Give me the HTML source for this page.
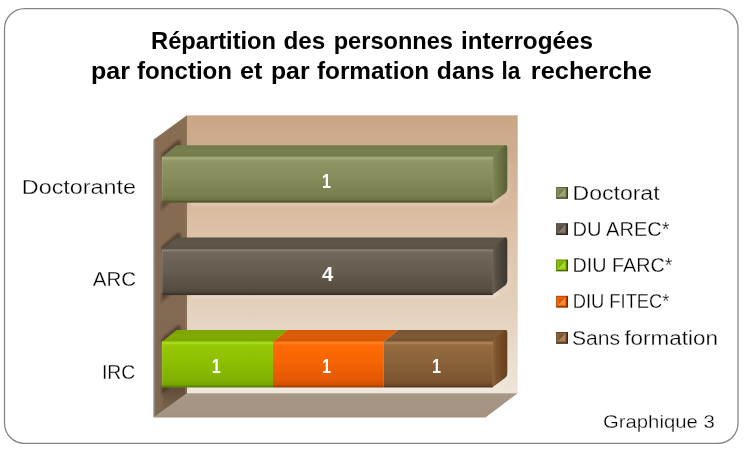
<!DOCTYPE html>
<html lang="fr"><head><meta charset="utf-8"><title>Graphique 3</title>
<style>
html,body{margin:0;padding:0;background:#fff;}
body{width:744px;height:449px;overflow:hidden;font-family:"Liberation Sans",sans-serif;}
svg{display:block}
text{font-family:"Liberation Sans",sans-serif;}
</style></head><body>
<svg width="744" height="449" viewBox="0 0 744 449">
<defs>
<linearGradient id="gback" x1="0" y1="0" x2="0" y2="1"><stop offset="0" stop-color="#c9a686"/><stop offset="0.15" stop-color="#cfae90"/><stop offset="0.4" stop-color="#dcc0a5"/><stop offset="0.73" stop-color="#e4d3bf"/><stop offset="1" stop-color="#eee6da"/></linearGradient>
<linearGradient id="gwall" x1="0" y1="0" x2="0" y2="1"><stop offset="0" stop-color="#896d53"/><stop offset="1" stop-color="#7f6751"/></linearGradient>
<linearGradient id="gfloor" x1="0" y1="0" x2="0" y2="1"><stop offset="0" stop-color="#a79786"/><stop offset="1" stop-color="#a39281"/></linearGradient>
<linearGradient id="f1" x1="0" y1="0" x2="0" y2="1"><stop offset="0" stop-color="#949a68"/><stop offset="0.035" stop-color="#a9af7d"/><stop offset="0.075" stop-color="#949a68"/><stop offset="0.13" stop-color="#8e9463"/><stop offset="0.45" stop-color="#868c5c"/><stop offset="0.85" stop-color="#787e4e"/><stop offset="0.94" stop-color="#6c7144"/><stop offset="0.975" stop-color="#54572e"/><stop offset="1" stop-color="#54572e"/></linearGradient><linearGradient id="t1" x1="0" y1="0" x2="0" y2="1"><stop offset="0" stop-color="#727949"/><stop offset="0.5" stop-color="#798050"/><stop offset="0.9" stop-color="#737a4a"/><stop offset="1" stop-color="#858b5b"/></linearGradient><linearGradient id="s1" x1="0" y1="0" x2="1" y2="0"><stop offset="0" stop-color="#858b5b"/><stop offset="0.3" stop-color="#737a4b"/><stop offset="1" stop-color="#595f35"/></linearGradient><linearGradient id="f2" x1="0" y1="0" x2="0" y2="1"><stop offset="0" stop-color="#72695c"/><stop offset="0.035" stop-color="#877f71"/><stop offset="0.075" stop-color="#72695c"/><stop offset="0.13" stop-color="#6e6658"/><stop offset="0.45" stop-color="#665e51"/><stop offset="0.85" stop-color="#584f43"/><stop offset="0.94" stop-color="#4d453a"/><stop offset="0.975" stop-color="#3a332a"/><stop offset="1" stop-color="#3a332a"/></linearGradient><linearGradient id="t2" x1="0" y1="0" x2="0" y2="1"><stop offset="0" stop-color="#595145"/><stop offset="0.5" stop-color="#5f574a"/><stop offset="0.9" stop-color="#595145"/><stop offset="1" stop-color="#6a6255"/></linearGradient><linearGradient id="s2" x1="0" y1="0" x2="1" y2="0"><stop offset="0" stop-color="#696154"/><stop offset="0.3" stop-color="#564e43"/><stop offset="1" stop-color="#3e372e"/></linearGradient><linearGradient id="f3" x1="0" y1="0" x2="0" y2="1"><stop offset="0" stop-color="#98ca08"/><stop offset="0.035" stop-color="#aede24"/><stop offset="0.075" stop-color="#98ca08"/><stop offset="0.13" stop-color="#95c605"/><stop offset="0.45" stop-color="#8dbf02"/><stop offset="0.85" stop-color="#80b002"/><stop offset="0.94" stop-color="#74a202"/><stop offset="0.975" stop-color="#5c8600"/><stop offset="1" stop-color="#5c8600"/></linearGradient><linearGradient id="t3" x1="0" y1="0" x2="0" y2="1"><stop offset="0" stop-color="#7ca500"/><stop offset="0.5" stop-color="#82ac02"/><stop offset="0.9" stop-color="#7ca500"/><stop offset="1" stop-color="#8fbd04"/></linearGradient><linearGradient id="s3" x1="0" y1="0" x2="1" y2="0"><stop offset="0" stop-color="#7ca500"/><stop offset="1" stop-color="#6a9000"/></linearGradient><linearGradient id="f4" x1="0" y1="0" x2="0" y2="1"><stop offset="0" stop-color="#ff6c08"/><stop offset="0.035" stop-color="#ff8428"/><stop offset="0.075" stop-color="#ff6c08"/><stop offset="0.13" stop-color="#fd6a05"/><stop offset="0.45" stop-color="#f56404"/><stop offset="0.85" stop-color="#e25804"/><stop offset="0.94" stop-color="#cf4f03"/><stop offset="0.975" stop-color="#a84000"/><stop offset="1" stop-color="#a84000"/></linearGradient><linearGradient id="t4" x1="0" y1="0" x2="0" y2="1"><stop offset="0" stop-color="#d45805"/><stop offset="0.5" stop-color="#dc5c05"/><stop offset="0.9" stop-color="#d45805"/><stop offset="1" stop-color="#ee6405"/></linearGradient><linearGradient id="s4" x1="0" y1="0" x2="1" y2="0"><stop offset="0" stop-color="#d45805"/><stop offset="1" stop-color="#b04800"/></linearGradient><linearGradient id="f5" x1="0" y1="0" x2="0" y2="1"><stop offset="0" stop-color="#976d41"/><stop offset="0.035" stop-color="#b1875a"/><stop offset="0.075" stop-color="#976d41"/><stop offset="0.13" stop-color="#93693e"/><stop offset="0.45" stop-color="#8b6239"/><stop offset="0.85" stop-color="#7d5530"/><stop offset="0.94" stop-color="#704b29"/><stop offset="0.975" stop-color="#593a1d"/><stop offset="1" stop-color="#593a1d"/></linearGradient><linearGradient id="t5" x1="0" y1="0" x2="0" y2="1"><stop offset="0" stop-color="#775430"/><stop offset="0.5" stop-color="#7e5a35"/><stop offset="0.9" stop-color="#775430"/><stop offset="1" stop-color="#8c653b"/></linearGradient><linearGradient id="s5" x1="0" y1="0" x2="1" y2="0"><stop offset="0" stop-color="#8f6539"/><stop offset="0.3" stop-color="#7c532b"/><stop offset="1" stop-color="#65401d"/></linearGradient>
<linearGradient id="gsh" x1="0" y1="0" x2="0" y2="1"><stop offset="0" stop-color="#2e1f14" stop-opacity="0.42"/><stop offset="0.5" stop-color="#2e1f14" stop-opacity="0.2"/><stop offset="1" stop-color="#2e1f14" stop-opacity="0.05"/></linearGradient>
<filter id="blur2" color-interpolation-filters="sRGB" x="-20%" y="-20%" width="140%" height="140%"><feGaussianBlur stdDeviation="1.6"/></filter>
<filter id="blur1" color-interpolation-filters="sRGB" x="-20%" y="-20%" width="140%" height="140%"><feGaussianBlur stdDeviation="0.8"/></filter>
<clipPath id="cwall"><polygon points="153.8,139.6 187.0,115.3 187.0,393.2 153.8,417.5"/></clipPath>
<clipPath id="cback"><rect x="187.0" y="115.3" width="330.7" height="277.9"/></clipPath>
</defs>
<rect x="4.5" y="8.6" width="733.5" height="434.7" rx="20" ry="20" fill="#fff" stroke="#858585" stroke-width="1.3"/>

<rect x="187.0" y="115.3" width="330.7" height="277.9" fill="url(#gback)"/>
<polygon points="153.8,417.5 187.0,393.2 517.7,393.2 485.5,417.5" fill="url(#gfloor)" />
<polygon points="153.8,139.6 187.0,115.3 187.0,393.2 153.8,417.5" fill="url(#gwall)" />
<g clip-path="url(#cwall)"><polygon points="161.6,159.6 161.6,153.8 177.5,140.6 180.7,140.6 180.7,148.2 165.9,159.6" fill="#35251a" opacity="0.55" filter="url(#blur1)"/><polygon points="161.4,201.7 170.9,201.7 163.9,207.7 161.4,210.7" fill="#3e2c1e" opacity="0.5" filter="url(#blur1)"/></g>
<g clip-path="url(#cback)"><polygon points="191.0,198.7 507.3,198.7 509.8,151.2 509.8,192.3 494.7,205.7 191.0,205.7" fill="#fff" opacity="0.22" filter="url(#blur2)"/></g>
<g clip-path="url(#cwall)"><polygon points="161.6,252.0 161.6,246.2 177.5,233.0 180.7,233.0 180.7,240.6 165.9,252.0" fill="#35251a" opacity="0.55" filter="url(#blur1)"/><polygon points="161.4,294.1 170.9,294.1 163.9,300.1 161.4,303.1" fill="#3e2c1e" opacity="0.5" filter="url(#blur1)"/></g>
<g clip-path="url(#cback)"><polygon points="191.0,291.1 507.3,291.1 509.8,243.6 509.8,284.7 494.7,298.1 191.0,298.1" fill="#fff" opacity="0.22" filter="url(#blur2)"/></g>
<g clip-path="url(#cwall)"><polygon points="161.6,344.4 161.6,338.6 177.5,325.4 180.7,325.4 180.7,333.0 165.9,344.4" fill="#35251a" opacity="0.55" filter="url(#blur1)"/><polygon points="161.4,386.5 170.9,386.5 163.9,392.5 161.4,395.5" fill="#3e2c1e" opacity="0.5" filter="url(#blur1)"/></g>
<g clip-path="url(#cback)"><polygon points="191.0,383.5 507.3,383.5 509.8,336.0 509.8,377.1 494.7,390.5 191.0,390.5" fill="#fff" opacity="0.22" filter="url(#blur2)"/></g>
<g clip-path="url(#cwall)"><polygon points="162.9,386.5 190.0,386.5 190.0,395.2 162.9,412.5" fill="url(#gsh)" filter="url(#blur2)"/></g>
<line x1="154.3" y1="140.1" x2="154.3" y2="417.0" stroke="#8f8780" stroke-width="1.7"/>
<line x1="185.8" y1="116.8" x2="185.8" y2="393.2" stroke="#8f745c" stroke-width="1.6" opacity="0.8"/>
<polygon points="161.9,157.2 176.5,145.2 507.3,145.2 492.7,157.2" fill="url(#t1)" />
<path d="M492.2,156.6 L504.8,145.2 Q507.3,145.2 507.3,147.7 L507.3,188.3 Q507.3,191.3 505.3,192.9 L492.2,202.7 Z" fill="url(#s1)"/>
<rect x="161.9" y="156.6" width="330.8" height="46.1" fill="url(#f1)"/>
<rect x="161.9" y="157.6" width="1.2" height="44.1" fill="#fff" opacity="0.10"/>
<polygon points="161.9,249.6 176.5,237.6 507.3,237.6 492.7,249.6" fill="url(#t2)" />
<path d="M492.2,249.0 L504.8,237.6 Q507.3,237.6 507.3,240.1 L507.3,280.7 Q507.3,283.7 505.3,285.3 L492.2,295.1 Z" fill="url(#s2)"/>
<rect x="161.9" y="249.0" width="330.8" height="46.1" fill="url(#f2)"/>
<rect x="161.9" y="250.0" width="1.2" height="44.1" fill="#fff" opacity="0.10"/>
<polygon points="161.9,342.0 176.5,330.0 287.6,330.0 273.0,342.0" fill="url(#t3)" />
<polygon points="273.0,342.0 287.6,330.0 398.3,330.0 383.7,342.0" fill="url(#t4)" />
<polygon points="383.7,342.0 398.3,330.0 507.3,330.0 492.7,342.0" fill="url(#t5)" />
<path d="M492.2,341.4 L504.8,330.0 Q507.3,330.0 507.3,332.5 L507.3,373.1 Q507.3,376.1 505.3,377.7 L492.2,387.5 Z" fill="url(#s5)"/>
<rect x="161.9" y="341.4" width="111.1" height="46.1" fill="url(#f3)"/>
<rect x="273.0" y="341.4" width="110.7" height="46.1" fill="url(#f4)"/>
<rect x="383.7" y="341.4" width="109.0" height="46.1" fill="url(#f5)"/>
<rect x="161.9" y="342.4" width="1.2" height="44.1" fill="#fff" opacity="0.10"/>
<text x="321.9" y="187.7" font-size="20.30" font-weight="bold" text-anchor="start" fill="#fff" textLength="9.0" lengthAdjust="spacingAndGlyphs">1</text>
<text x="327.7" y="280.6" font-size="20.30" font-weight="bold" text-anchor="middle" fill="#fff">4</text>
<text x="211.8" y="372.6" font-size="20.30" font-weight="bold" text-anchor="start" fill="#fff" textLength="9.0" lengthAdjust="spacingAndGlyphs">1</text>
<text x="321.9" y="372.6" font-size="20.30" font-weight="bold" text-anchor="start" fill="#fff" textLength="9.0" lengthAdjust="spacingAndGlyphs">1</text>
<text x="432.1" y="372.6" font-size="20.30" font-weight="bold" text-anchor="start" fill="#fff" textLength="9.0" lengthAdjust="spacingAndGlyphs">1</text>
<text y="48.80" font-size="24.40" font-weight="bold" fill="#000"><tspan x="151.03" textLength="125.06" lengthAdjust="spacingAndGlyphs">Répartition</tspan> <tspan x="283.40" textLength="41.82" lengthAdjust="spacingAndGlyphs">des</tspan> <tspan x="333.73" textLength="119.21" lengthAdjust="spacingAndGlyphs">personnes</tspan> <tspan x="460.91" textLength="132.03" lengthAdjust="spacingAndGlyphs">interrogées</tspan></text>
<text y="78.85" font-size="24.40" font-weight="bold" fill="#000"><tspan x="90.97" textLength="38.99" lengthAdjust="spacingAndGlyphs">par</tspan> <tspan x="137.00" textLength="95.07" lengthAdjust="spacingAndGlyphs">fonction</tspan> <tspan x="239.97" textLength="22.41" lengthAdjust="spacingAndGlyphs">et</tspan> <tspan x="270.98" textLength="38.58" lengthAdjust="spacingAndGlyphs">par</tspan> <tspan x="316.90" textLength="112.37" lengthAdjust="spacingAndGlyphs">formation</tspan> <tspan x="436.89" textLength="57.56" lengthAdjust="spacingAndGlyphs">dans</tspan> <tspan x="501.47" textLength="18.92" lengthAdjust="spacingAndGlyphs">la</tspan> <tspan x="530.86" textLength="121.07" lengthAdjust="spacingAndGlyphs">recherche</tspan></text>
<text x="21.8" y="193.9" font-size="20.00" font-weight="normal" text-anchor="start" fill="#000" textLength="114.2" lengthAdjust="spacingAndGlyphs" stroke="#fff" stroke-width="0.28" paint-order="fill stroke">Doctorante</text>
<text x="92.7" y="286.1" font-size="20.00" font-weight="normal" text-anchor="start" fill="#000" textLength="43.4" lengthAdjust="spacingAndGlyphs" stroke="#fff" stroke-width="0.28" paint-order="fill stroke">ARC</text>
<text x="101.9" y="378.6" font-size="20.00" font-weight="normal" text-anchor="start" fill="#000" textLength="33.4" lengthAdjust="spacingAndGlyphs" stroke="#fff" stroke-width="0.28" paint-order="fill stroke">IRC</text>
<text x="603.0" y="427.9" font-size="17.70" font-weight="normal" text-anchor="start" fill="#000" textLength="111.7" lengthAdjust="spacingAndGlyphs" stroke="#fff" stroke-width="0.28" paint-order="fill stroke">Graphique 3</text>
<rect x="556.0" y="187.0" width="12.0" height="11.8" fill="#5f633a"/>
<rect x="557.0" y="188.0" width="9.4" height="9.4" fill="#858b5b"/>
<polygon points="559.0,196.2 565.2,189.6 565.2,196.2" fill="#a0a677" opacity="0.9"/>
<polygon points="559.0,189.8 564.6,189.8 559.0,195.6" fill="#5f633a" opacity="0.35"/>
<line x1="559.0" y1="196.2" x2="565.2" y2="189.6" stroke="#b4b98c" stroke-width="0.8"/>
<rect x="566.5" y="187.3" width="1.5" height="11.5" fill="#000" opacity="0.38"/>
<rect x="556.5" y="197.7" width="10.0" height="1.1" fill="#000" opacity="0.28"/>
<rect x="556.0" y="187.0" width="1" height="10.8" fill="#fff" opacity="0.12"/>
<text x="572.5" y="199.7" font-size="20.00" font-weight="normal" text-anchor="start" fill="#000" textLength="87.1" lengthAdjust="spacingAndGlyphs" stroke="#fff" stroke-width="0.28" paint-order="fill stroke">Doctorat</text>
<rect x="556.0" y="223.2" width="12.0" height="11.8" fill="#3e372e"/>
<rect x="557.0" y="224.2" width="9.4" height="9.4" fill="#665e51"/>
<polygon points="559.0,232.5 565.2,225.8 565.2,232.5" fill="#857d6f" opacity="0.9"/>
<polygon points="559.0,226.1 564.6,226.1 559.0,231.9" fill="#3e372e" opacity="0.35"/>
<line x1="559.0" y1="232.5" x2="565.2" y2="225.8" stroke="#9a9284" stroke-width="0.8"/>
<rect x="566.5" y="223.6" width="1.5" height="11.5" fill="#000" opacity="0.38"/>
<rect x="556.5" y="234.0" width="10.0" height="1.1" fill="#000" opacity="0.28"/>
<rect x="556.0" y="223.2" width="1" height="10.8" fill="#fff" opacity="0.12"/>
<text x="572.6" y="235.9" font-size="20.00" font-weight="normal" text-anchor="start" fill="#000" textLength="97.1" lengthAdjust="spacingAndGlyphs" stroke="#fff" stroke-width="0.28" paint-order="fill stroke">DU AREC*</text>
<rect x="556.0" y="259.5" width="12.0" height="11.8" fill="#5f8800"/>
<rect x="557.0" y="260.5" width="9.4" height="9.4" fill="#8dbf02"/>
<polygon points="559.0,268.7 565.2,262.1 565.2,268.7" fill="#a6dc28" opacity="0.9"/>
<polygon points="559.0,262.3 564.6,262.3 559.0,268.1" fill="#5f8800" opacity="0.35"/>
<line x1="559.0" y1="268.7" x2="565.2" y2="262.1" stroke="#bfe85a" stroke-width="0.8"/>
<rect x="566.5" y="259.8" width="1.5" height="11.5" fill="#000" opacity="0.38"/>
<rect x="556.5" y="270.2" width="10.0" height="1.1" fill="#000" opacity="0.28"/>
<rect x="556.0" y="259.5" width="1" height="10.8" fill="#fff" opacity="0.12"/>
<text x="572.6" y="272.2" font-size="20.00" font-weight="normal" text-anchor="start" fill="#000" textLength="99.8" lengthAdjust="spacingAndGlyphs" stroke="#fff" stroke-width="0.28" paint-order="fill stroke">DIU FARC*</text>
<rect x="556.0" y="295.8" width="12.0" height="11.8" fill="#b04400"/>
<rect x="557.0" y="296.8" width="9.4" height="9.4" fill="#f56404"/>
<polygon points="559.0,304.9 565.2,298.4 565.2,304.9" fill="#ff8a3a" opacity="0.9"/>
<polygon points="559.0,298.6 564.6,298.6 559.0,304.4" fill="#b04400" opacity="0.35"/>
<line x1="559.0" y1="304.9" x2="565.2" y2="298.4" stroke="#ffa868" stroke-width="0.8"/>
<rect x="566.5" y="296.1" width="1.5" height="11.5" fill="#000" opacity="0.38"/>
<rect x="556.5" y="306.4" width="10.0" height="1.1" fill="#000" opacity="0.28"/>
<rect x="556.0" y="295.8" width="1" height="10.8" fill="#fff" opacity="0.12"/>
<text x="572.7" y="308.4" font-size="20.00" font-weight="normal" text-anchor="start" fill="#000" textLength="96.8" lengthAdjust="spacingAndGlyphs" stroke="#fff" stroke-width="0.28" paint-order="fill stroke">DIU FITEC*</text>
<rect x="556.0" y="332.0" width="12.0" height="11.8" fill="#5e3f20"/>
<rect x="557.0" y="333.0" width="9.4" height="9.4" fill="#8b6239"/>
<polygon points="559.0,341.2 565.2,334.6 565.2,341.2" fill="#ab8358" opacity="0.9"/>
<polygon points="559.0,334.8 564.6,334.8 559.0,340.6" fill="#5e3f20" opacity="0.35"/>
<line x1="559.0" y1="341.2" x2="565.2" y2="334.6" stroke="#c29c74" stroke-width="0.8"/>
<rect x="566.5" y="332.3" width="1.5" height="11.5" fill="#000" opacity="0.38"/>
<rect x="556.5" y="342.7" width="10.0" height="1.1" fill="#000" opacity="0.28"/>
<rect x="556.0" y="332.0" width="1" height="10.8" fill="#fff" opacity="0.12"/>
<text y="344.60" font-size="20.00" font-weight="normal" fill="#000" stroke="#fff" stroke-width="0.28" paint-order="fill stroke"><tspan x="571.95" textLength="48.08" lengthAdjust="spacingAndGlyphs">Sans</tspan> <tspan x="624.40" textLength="93.54" lengthAdjust="spacingAndGlyphs">formation</tspan></text>
</svg></body></html>
